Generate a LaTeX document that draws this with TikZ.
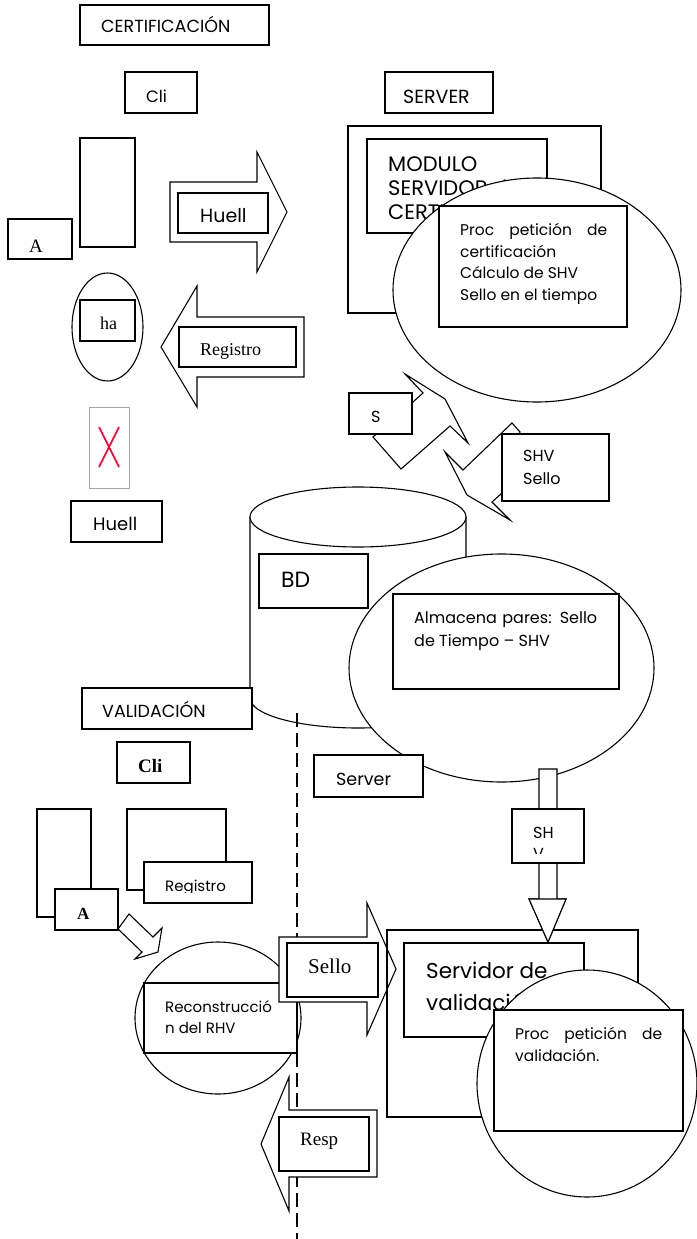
\documentclass[tikz,border=0pt]{standalone}
\usepackage{fontspec}
\newfontfamily\fut{Poppins}
\newfontfamily\tms{Liberation Serif}
\newcommand\fsz[1]{\fontsize{#1}{#1}\selectfont}
\usetikzlibrary{shapes.geometric,fit}
\definecolor{xred}{RGB}{255,0,50}
\tikzset{
  ln/.style={line width=1.1pt, line join=miter},
  bx/.style={ln, draw, fill=white, rectangle, inner sep=0pt, outer sep=0pt},
  el/.style={ln, draw, fill=white, ellipse, inner sep=0pt, outer sep=0pt},
  shp/.style={ln, draw, fill=white},
  sf/.style={inner sep=0pt, anchor=base west, font=\fut\fsz{17.5}},
  sr/.style={inner sep=0pt, anchor=base west, font=\tms\fsz{18}},
  dash line/.style={line width=1.1pt, dash pattern=on 14pt off 6pt}
}
\begin{document}
\begin{tikzpicture}[x=1pt,y=-1pt]
\useasboundingbox (0,0) rectangle (696,1239);
\fill[white] (0,0) rectangle (696,1239);
% ---------------- CERTIFICACION ----------------
\node[bx, fit={(80,5) (269,45)}] (bcert) {};
\node[sf] (tcert) at (101,33) {CERTIFICACIÓN};
\node[bx, fit={(125,72) (197,113)}] (bcli) {};
\node[sf, font=\fut\fsz{16.5}] (tcli) at (146,102) {Cli};
\node[bx, fit={(80,138) (135,247)}] (btall) {};
\node[bx, fit={(8,219) (72,259)}] (ba) {};
\node[sr, font=\tms\fsz{19}] (ta) at (29,252) {A};
% Huell arrow
\draw[shp] (170,182) -- (257,182) -- (257,152) -- (287,212) -- (257,272) -- (257,242) -- (170,242) -- cycle;
\node[bx, fit={(178,193) (268,233)}] (bhuell) {};
\node[sf, font=\fut\fsz{19}] (thuell) at (200,222) {Huell};
% server
\node[bx, fit={(385,72) (493,113)}] (bserver) {};
\node[sf, font=\fut\fsz{19}] (tserver) at (403,103) {SERVER};
\node[bx, fit={(348,126) (601,313)}] (rsrv) {};
\node[bx, fit={(367,139) (547,233)}] (bmod) {};
\node[sf, font=\fut\fsz{21}] (tmod1) at (388,171) {MODULO};
\node[sf, font=\fut\fsz{21}] (tmod2) at (388,195) {SERVIDOR de};
\node[sf, font=\fut\fsz{21}] (tmod3) at (388,219) {CERTIFICACIÓN};
\node[el, minimum width=288pt, minimum height=224pt] (ecert) at (537,290) {};
\node[bx, fit={(439,206) (627,327)}] (bproc) {};
\node[sf, font=\fut\fsz{15.5}] (tp1) at (460,235) {\makebox[147pt][s]{Proc petición de}};
\node[sf, font=\fut\fsz{15.5}] (tp2) at (460,257) {certificación};
\node[sf, font=\fut\fsz{15.5}] (tp3) at (460,278) {Cálculo de SHV};
\node[sf, font=\fut\fsz{15.5}] (tp4) at (460,300) {Sello en el tiempo};
% ha ellipse
\node[el, minimum width=71pt, minimum height=108pt] (eha) at (107.5,327) {};
\node[bx, fit={(80,300) (135,341)}] (bha) {};
\node[sr, font=\tms\fsz{18}] (tha) at (100,329) {ha};
% Registro arrow
\draw[shp] (161,347) -- (197,286) -- (197,317) -- (304,317) -- (304,377) -- (197,377) -- (197,407) -- cycle;
\node[bx, fit={(179,327) (296,367)}] (breg) {};
\node[sr] (treg) at (200,355) {Registro};
% X rect
\node[draw=gray!70, line width=0.8pt, fill=white, rectangle, inner sep=0pt, fit={(89,407) (129,488)}] (bx1) {};
\draw[xred, line width=1.6pt] (99,427) -- (119,467) (119,427) -- (99,467);
\node[bx, fit={(71,501) (162,542)}] (bhuell2) {};
\begin{scope}
\clip (71,501) rectangle (162,531);
\node[sf, font=\fut\fsz{18}] (thuell2) at (93,530) {Huell};
\end{scope}
% lightning bolts
\draw[shp] (405,374) -- (445,399) -- (468,443) -- (450,426) -- (401,469) -- (373,437) -- (413,402) -- (423,393) -- cycle;
\draw[shp] (445,452) -- (463,470) -- (512,423) -- (520,432) -- (502,493) -- (492,502) -- (510,520) -- (467,495) -- cycle;
\node[bx, fit={(349,393) (412,434)}] (bs) {};
\node[sf, font=\fut\fsz{16}] (ts) at (371,422) {S};
\node[bx, fit={(502,434) (609,501)}] (bshv) {};
\node[sf, font=\fut\fsz{16}] (tshv1) at (523,461) {SHV};
\node[sf, font=\fut\fsz{16}] (tshv2) at (523,484) {Sello};
% cylinder BD
\draw[shp] (250,517) -- (250,698) .. controls (250,714.6) and (298.4,728) .. (358,728) .. controls (417.6,728) and (466,714.6) .. (466,698) -- (466,517) -- cycle;
\node[el, minimum width=216pt, minimum height=60pt] (cyltop) at (358,517) {};
\node[bx, fit={(259,554) (368,608)}] (bbd) {};
\node[sf, font=\fut\fsz{22}] (tbd) at (281,587) {BD};
% dashed line
\coordinate (d1) at (297,713);
\coordinate (d2) at (297,1239);
\draw[dash line] (d1) -- (d2);
% Almacena
\node[el, minimum width=305pt, minimum height=228pt] (ealm) at (501.5,668) {};
\node[bx, fit={(393,594) (619,689)}] (balm) {};
\node[sf, font=\fut\fsz{16}] (talm1) at (414,623) {\makebox[183pt][s]{Almacena pares: Sello}};
\node[sf, font=\fut\fsz{16}] (talm2) at (414,646) {de Tiempo – SHV};
% ---------------- VALIDACION ----------------
\node[bx, fit={(82,688) (252,729)}] (bval) {};
\node[sf] (tval) at (102,717) {VALIDACIÓN};
\node[bx, fit={(117,742) (190,783)}] (bcli2) {};
\begin{scope}
\clip (117,742) rectangle (190,773);
\node[sr, font=\tms\bfseries\fsz{19}] (tcli2) at (138,772) {Cli};
\end{scope}
\node[bx, fit={(314,755) (423,797)}] (bserv2) {};
\begin{scope}
\clip (314,755) rectangle (423,786);
\node[sf] (tserv2) at (336,785) {Server};
\end{scope}
% SH down arrow
\draw[shp] (539,769) -- (557,769) -- (557,899) -- (566,899) -- (548,942) -- (529,899) -- (539,899) -- cycle;
\node[bx, fit={(512,809) (584,863)}] (bsh) {};
\node[sf, font=\fut\fsz{16}] (tsh1) at (533,838) {SH};
\begin{scope}
\clip (512,809) rectangle (584,853);
\node[sf, font=\fut\fsz{16}] (tsh2) at (533,859) {V};
\end{scope}
% client side
\node[bx, fit={(37,809) (91,917)}] (btall2) {};
\node[bx, fit={(55,889) (118,930)}] (ba2) {};
\node[sr, font=\tms\bfseries\fsz{17}] (ta2) at (77,919) {A};
\node[bx, fit={(127,809) (226,890)}] (brect2) {};
\node[bx, fit={(144,862) (252,903)}] (breg2) {};
\begin{scope}
\clip (144,862) rectangle (252,892);
\node[sf, font=\fut\fsz{15}] (treg2) at (165,891) {Registro};
\end{scope}
\draw[shp] (129,914) -- (153,937) -- (162,928) -- (158,952) -- (135,959) -- (142,952) -- (118,929) -- cycle;
% Reconstruccion
\node[el, minimum width=166pt, minimum height=152pt] (erec) at (218,1018) {};
\node[bx, fit={(144,983) (297,1053)}] (brec) {};
\node[sf, font=\fut\fsz{15}] (trec1) at (165,1012) {Reconstrucció};
\node[sf, font=\fut\fsz{15}] (trec2) at (165,1033) {n del RHV};
% Sello arrow
\draw[shp] (279,937) -- (367,937) -- (367,903) -- (396,969) -- (367,1035) -- (367,1002) -- (279,1002) -- cycle;
\node[bx, fit={(287,943) (378,997)}] (bsello) {};
\node[sr, font=\tms\fsz{21}] (tsello) at (308,973) {Sello};
% Servidor de validacion
\node[ln, draw, rectangle, inner sep=0pt, fit={(387,930) (638,1117)}] (rval) {};
\draw[shp] (539,899) -- (566,899) -- (548,942) -- (529,899) -- cycle;
\node[bx, fit={(404,943) (584,1037)}] (bsrvval) {};
\node[sf, font=\fut\fsz{21.5}] (tsv1) at (426,978) {Servidor de};
\node[sf, font=\fut\fsz{21.5}] (tsv2) at (426,1010) {validación};
\node[el, minimum width=220pt, minimum height=227pt] (evalc) at (587,1083.5) {};
\node[bx, fit={(494,1010) (683,1131)}] (bpv) {};
\node[sf, font=\fut\fsz{15.5}] (tpv1) at (515,1039) {\makebox[147pt][s]{Proc petición de}};
\node[sf, font=\fut\fsz{15.5}] (tpv2) at (515,1061) {validación.};
% Resp arrow
\draw[shp] (261,1144) -- (289,1077) -- (289,1110) -- (377,1110) -- (377,1177) -- (289,1177) -- (289,1211) -- cycle;
\node[bx, fit={(279,1117) (369,1171)}] (bresp) {};
\node[sr, font=\tms\fsz{19}] (tresp) at (300,1145) {Resp};
\end{tikzpicture}
\end{document}
